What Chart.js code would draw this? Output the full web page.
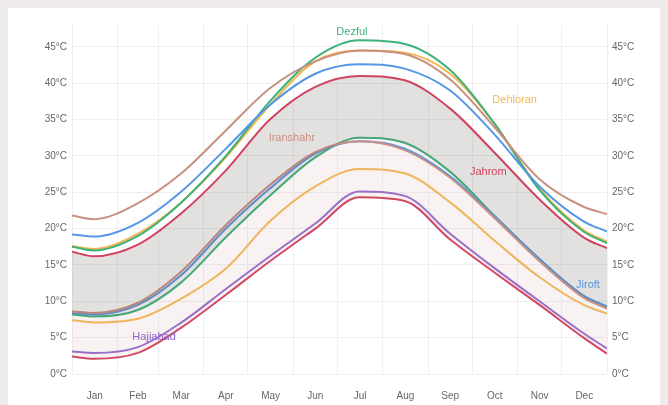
<!DOCTYPE html>
<html>
<head>
<meta charset="utf-8">
<script src="https://cdn.jsdelivr.net/npm/chart.js@4"></script>
<style>
    html, body { margin: 0; padding: 0; background: #efebeb; }
    #wrap { position: absolute; left: 8px; top: 8px; width: 652px; height: 397px; background: #fff; }
</style>
</head>
<body>
<div id="wrap"><canvas id="climateChart"></canvas></div>
<script>
// day of year for each sample: year start, mid-month values, year end
const days = [0, 15, 45, 74, 105, 135, 166, 196, 227, 258, 288, 319, 349, 365];
const monthNames = ['Jan', 'Feb', 'Mar', 'Apr', 'May', 'Jun', 'Jul', 'Aug', 'Sep', 'Oct', 'Nov', 'Dec'];
const monthStarts = [0, 31, 59, 90, 120, 151, 181, 212, 243, 273, 304, 334, 365];
const monthMids = [15.5, 45, 74.5, 105, 135.5, 166, 196.5, 227.5, 258, 288.5, 319, 349.5];
const yTicks = [0, 5, 10, 15, 20, 25, 30, 35, 40, 45];

// daily highs (°C)
const iranshahrHigh = [21.8, 21.3, 23.5, 27.5, 33.5, 39.3, 43.0, 44.5, 44.0, 40.5, 34.0, 26.8, 23.0, 22.0];
const jiroftHigh    = [19.2, 18.9, 20.8, 25.0, 31.0, 37.0, 41.3, 42.6, 42.0, 39.0, 33.0, 25.8, 21.0, 19.6];
const dezfulHigh    = [17.5, 17.0, 19.0, 23.5, 30.0, 37.5, 43.5, 45.9, 45.4, 41.8, 34.5, 25.3, 19.6, 18.0];
const dehloranHigh  = [17.6, 17.2, 19.3, 23.5, 29.8, 37.0, 43.0, 44.5, 44.2, 41.3, 34.5, 25.5, 19.8, 18.2];
const jahromHigh    = [16.8, 16.2, 17.8, 22.0, 28.0, 35.0, 39.5, 41.0, 40.4, 36.5, 30.5, 24.0, 18.8, 17.3];

// daily lows (°C)
const iranshahrLow  = [8.6, 8.4, 9.8, 14.0, 20.5, 26.0, 30.5, 32.0, 30.8, 27.0, 21.5, 15.5, 10.5, 9.0];
const jiroftLow     = [8.4, 8.2, 9.5, 13.5, 20.0, 25.5, 30.3, 32.0, 31.0, 27.2, 21.7, 15.8, 10.8, 9.3];
const dezfulLow     = [8.2, 7.9, 8.8, 12.5, 18.8, 24.5, 29.8, 32.5, 31.8, 27.8, 21.8, 15.8, 10.7, 9.2];
const dehloranLow   = [7.4, 7.1, 7.6, 10.3, 14.5, 21.0, 25.8, 28.2, 27.6, 23.6, 18.4, 13.3, 9.5, 8.3];
const hajiabadLow   = [3.1, 2.9, 3.7, 7.0, 11.7, 16.2, 20.7, 25.1, 24.5, 19.3, 14.6, 10.0, 5.6, 3.5];
const jahromLow     = [2.4, 2.1, 2.9, 6.3, 10.9, 15.5, 20.0, 24.3, 23.8, 18.5, 14.0, 9.5, 5.0, 2.8];

const colors = {
    iranshahr: '#c98f80',
    jiroft: '#5596e6',
    dezful: '#3fb07a',
    dehloran: '#f2b84e',
    jahrom: '#d0435f',
    hajiabad: '#9066cc'
};

// city names written on the plot, at [day, °C]
const cityLabels = [
    { text: 'Dezful', at: [191, 47.1], color: colors.dezful },
    { text: 'Dehloran', at: [302, 37.7], color: colors.dehloran },
    { text: 'Iranshahr', at: [150, 32.5], color: colors.iranshahr },
    { text: 'Jahrom', at: [284, 27.8], color: colors.jahrom },
    { text: 'Jiroft', at: [352, 12.2], color: colors.jiroft },
    { text: 'Hajiabad', at: [56, 5.1], color: colors.hajiabad }
];

function series(values, color, fill, bg) {
    return {
        data: values.map((v, i) => ({ x: days[i], y: v })),
        borderColor: color,
        borderWidth: 2,
        pointRadius: 0,
        cubicInterpolationMode: 'monotone',
        fill: fill === undefined ? false : fill,
        backgroundColor: bg || 'transparent'
    };
}

const labelPlugin = {
    id: 'cityLabels',
    afterDatasetsDraw(chart) {
        const ctx = chart.ctx;
        const xs = chart.scales.x, ys = chart.scales.y;
        ctx.save();
        ctx.font = '11px "Liberation Sans", Arial, sans-serif';
        ctx.textAlign = 'center';
        ctx.textBaseline = 'middle';
        cityLabels.forEach(l => {
            ctx.fillStyle = l.color;
            ctx.fillText(l.text, xs.getPixelForValue(l.at[0]), ys.getPixelForValue(l.at[1]));
        });
        ctx.restore();
    }
};

const yAxis = (pos, width) => ({
    type: 'linear',
    position: pos,
    min: 0,
    max: 48,
    afterBuildTicks: axis => { axis.ticks = yTicks.map(v => ({ value: v })); },
    afterFit: axis => { axis.width = width; },
    border: { display: false },
    grid: { display: pos === 'left', color: '#eeeeee', drawTicks: false },
    ticks: {
        padding: 5,
        color: '#666',
        font: { size: 10, family: '"Liberation Sans", Arial, sans-serif' },
        callback: v => v + '°C'
    }
});

new Chart(document.getElementById('climateChart'), {
    type: 'line',
    data: {
        datasets: [
            series(iranshahrHigh, colors.iranshahr),
            series(jiroftHigh, colors.jiroft),
            series(dezfulHigh, colors.dezful),
            series(dehloranHigh, colors.dehloran),
            series(jahromHigh, colors.jahrom, 7, 'rgba(115, 100, 100, 0.2)'),
            series(iranshahrLow, colors.iranshahr),
            series(jiroftLow, colors.jiroft),
            series(dezfulLow, colors.dezful, 10, 'rgba(215, 165, 172, 0.15)'),
            series(dehloranLow, colors.dehloran),
            series(hajiabadLow, colors.hajiabad),
            series(jahromLow, colors.jahrom)
        ]
    },
    options: {
        responsive: true,
        maintainAspectRatio: false,
        animation: false,
        layout: { padding: { top: 17, left: 0, right: 0, bottom: 0 } },
        plugins: { legend: { display: false }, tooltip: { enabled: false } },
        scales: {
            x: {
                type: 'linear',
                min: 0,
                max: 365,
                afterBuildTicks: axis => {
                    axis.ticks = monthStarts.map(v => ({ value: v }))
                        .concat(monthMids.map(v => ({ value: v })))
                        .sort((a, b) => a.value - b.value);
                },
                afterFit: axis => { axis.height = 31; },
                border: { display: false },
                grid: {
                    drawTicks: false,
                    color: c => (c.tick && monthStarts.includes(c.tick.value)) ? '#efefef' : 'transparent'
                },
                ticks: {
                    autoSkip: false,
                    maxRotation: 0,
                    padding: 16,
                    color: '#666',
                    font: { size: 10, family: '"Liberation Sans", Arial, sans-serif' },
                    callback: v => {
                        const i = monthMids.indexOf(v);
                        return i >= 0 ? monthNames[i] : '';
                    }
                }
            },
            y: yAxis('left', 64),
            y2: yAxis('right', 53)
        }
    },
    plugins: [labelPlugin]
});
</script>
</body>
</html>
